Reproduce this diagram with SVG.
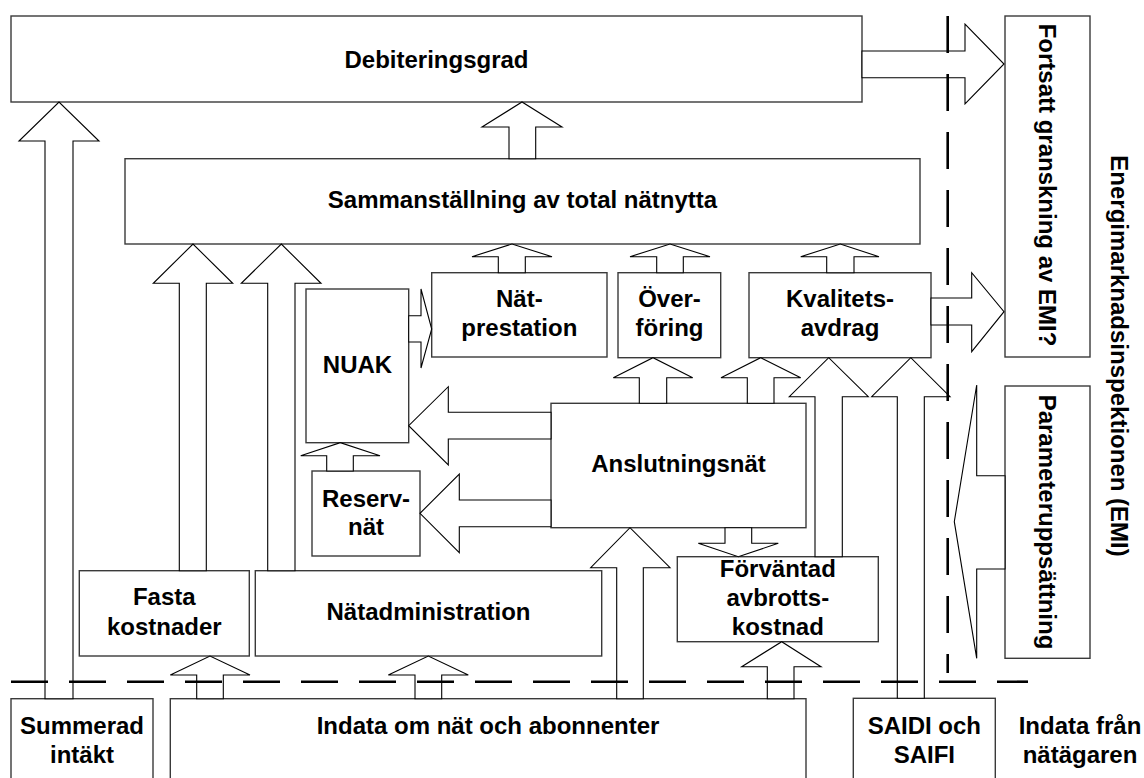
<svg xmlns="http://www.w3.org/2000/svg" width="1144" height="778" viewBox="0 0 1144 778">
<style>
.box{fill:#fff;stroke:#3a3a3a;stroke-width:1.4}
.arr{fill:#fff;stroke:#000;stroke-width:1.1;stroke-linejoin:miter}
.dash{fill:none;stroke:#000;stroke-width:2.6;stroke-dasharray:37 21}
text{font-family:"Liberation Sans",Arial,sans-serif;font-weight:bold;font-size:24px;fill:#000;text-anchor:middle}
</style>
<rect width="1144" height="778" fill="#fff"/>
<g id="debiteringsgrad"><rect class="box" x="11" y="16" width="851" height="86"/><text x="436.5" y="68">Debiteringsgrad</text></g>
<g id="sammanstallning"><rect class="box" x="125" y="158.7" width="795" height="85.3"/><text x="522.5" y="208">Sammanställning av total nätnytta</text></g>
<g id="fortsatt"><rect class="box" x="1005" y="16" width="85" height="341"/><text transform="translate(1047.5,185) rotate(90)" y="8.5">Fortsatt granskning av EMI?</text></g>
<g id="parameter"><rect class="box" x="1005" y="386" width="85" height="272.3"/><text transform="translate(1047.5,522) rotate(90)" y="8.5">Parameteruppsättning</text></g>
<g id="emi"><text transform="translate(1119,356) rotate(90)" y="8.5">Energimarknadsinspektionen (EMI)</text></g>
<g id="nuak"><rect class="box" x="306" y="289" width="102.7" height="153.7"/><text x="357.5" y="373">NUAK</text></g>
<g id="natprestation"><rect class="box" x="431.7" y="272.7" width="175.3" height="84.3"/><text x="519.3" y="307">Nät-</text><text x="519.3" y="336">prestation</text></g>
<g id="overforing"><rect class="box" x="618" y="272.7" width="102.7" height="85"/><text x="669.5" y="307">Över-</text><text x="669.5" y="336">föring</text></g>
<g id="kvalitetsavdrag"><rect class="box" x="749" y="272.7" width="182" height="85"/><text x="840" y="307">Kvalitets-</text><text x="840" y="336">avdrag</text></g>
<g id="anslutningsnat"><rect class="box" x="551" y="403.3" width="255" height="124.4"/><text x="678.5" y="472">Anslutningsnät</text></g>
<g id="reservnat"><rect class="box" x="312" y="471" width="108" height="85"/><text x="366" y="507">Reserv-</text><text x="366" y="535">nät</text></g>
<g id="fasta"><rect class="box" x="79.3" y="570.7" width="170" height="85.3"/><text x="164.3" y="605">Fasta</text><text x="164.3" y="635">kostnader</text></g>
<g id="natadministration"><rect class="box" x="255.3" y="570.7" width="346.4" height="85.3"/><text x="428.5" y="620">Nätadministration</text></g>
<g id="forvantad"><rect class="box" x="677.3" y="556.7" width="201" height="85"/><text x="777.8" y="577">Förväntad</text><text x="777.8" y="606">avbrotts-</text><text x="777.8" y="635">kostnad</text></g>
<g id="summerad"><rect class="box" x="11" y="698.7" width="142" height="90"/><text x="82" y="734">Summerad</text><text x="82" y="763">intäkt</text></g>
<g id="indata"><rect class="box" x="170.3" y="698.7" width="635.7" height="90"/><text x="488" y="733.5">Indata om nät och abonnenter</text></g>
<g id="saidi"><rect class="box" x="853.3" y="698.3" width="142" height="90"/><text x="924.3" y="733.5">SAIDI och</text><text x="924.3" y="763">SAIFI</text></g>
<g id="indata-fran"><text x="1080" y="733.5">Indata från</text><text x="1080" y="763">nätägaren</text></g>
<g id="connectors">
<path class="arr" d="M45 698.7V141H19L59 102L99 141H73V698.7Z"/>
<path class="arr" d="M509 158.7V127H482L522 102L562 127H535.7V158.7Z"/>
<path class="arr" d="M179.3 570.7V283.3H153.3L193 244L232.7 283.3H206.3V570.7Z"/>
<path class="arr" d="M267.7 570.7V283.3H241.3L281.3 244L321 283.3H295V570.7Z"/>
<path class="arr" d="M498.3 272.7V256.7H472L512 244L552 256.7H525.3V272.7Z"/>
<path class="arr" d="M656.7 272.7V256.7H630L670 244L710 256.7H683.3V272.7Z"/>
<path class="arr" d="M826.7 272.7V256.7H800.7L840.3 244L879 256.7H854V272.7Z"/>
<path class="arr" d="M639.3 403.3V377.7H613.3L653 357.7L692.7 377.7H666.7V403.3Z"/>
<path class="arr" d="M747.3 403.3V377.7H721L760.7 357.7L800.7 377.7H774V403.3Z"/>
<path class="arr" d="M815 556.7V396.7H789.3L828.7 357.7L868.3 396.7H842.3V556.7Z"/>
<path class="arr" d="M897.3 698.3V396.7H871.7L910.8 357.7L950 396.7H924.3V698.3Z"/>
<path class="arr" d="M326.7 471V455.7H300.7L340.3 442.7L380 455.7H353.3V471Z"/>
<path class="arr" d="M196.7 698.7V675H170.3L210 656L250 675H223.3V698.7Z"/>
<path class="arr" d="M415 698.7V675H388.3L428.3 656L468.3 675H441.7V698.7Z"/>
<path class="arr" d="M616.7 698.7V567.7H590.7L630 527.7L670 567.7H643.3V698.7Z"/>
<path class="arr" d="M767.3 698.7V666.7H741.7L781.7 641.7L821 666.7H794V698.7Z"/>
<path class="arr" d="M725 527.7V543.3H698.3L738.3 556.7L778.3 543.3H751.7V527.7Z"/>
<path class="arr" d="M862 51H965V24L1004 64L965 104V77.7H862Z"/>
<path class="arr" d="M931 298H971.7V272.7L1004 311.7L971.7 351.7V325H931Z"/>
<path class="arr" d="M408.7 315.7H421V289L431.7 329L421 368V342H408.7Z"/>
<path class="arr" d="M551 412.3H448.3V386.7L408.7 425.7L448.3 465V439H551Z"/>
<path class="arr" d="M551 500H459.3V474L420 513.3L459.3 552.7V526.7H551Z"/>
<path class="arr" d="M1005 475.7H976.7V385L954.3 521.7L976.7 658.3V569H1005Z"/>
<line class="dash" x1="11" y1="681.7" x2="1028" y2="681.7"/>
<line class="dash" x1="947.7" y1="16" x2="947.7" y2="673"/>
</g>
</svg>
